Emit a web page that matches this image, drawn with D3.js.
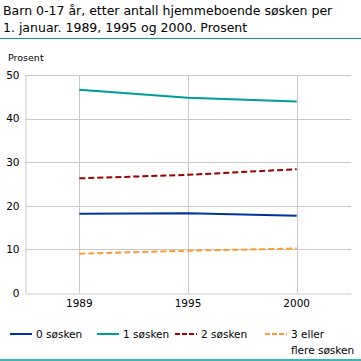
<!DOCTYPE html>
<html>
<head>
<meta charset="utf-8">
<script src="https://cdn.jsdelivr.net/npm/d3@7"></script>
<style>
  body { margin: 0; background: #fff; }
  svg { display: block; font-family: "DejaVu Sans", sans-serif; }
</style>
</head>
<body>
<script>
// chart data
let years = ["1989", "1995", "2000"];
let seriesNames = ["0 søsken", "1 søsken", "2 søsken", "3 eller flere søsken"];
let sosken0 = [18.2, 18.3, 17.7];
let sosken1 = [46.6, 44.8, 43.9];
let sosken2 = [26.3, 27.1, 28.4];
let sosken3 = [9.0, 9.7, 10.2];
let yTicks = [0, 10, 20, 30, 40, 50];

let colors = ["#003399", "#009c9c", "#990000", "#ff9933"];
let dashes = [null, null, "6,3", "6,3"];

let w = 361, h = 361;
let plotL = 25, plotR = 351, plotT = 75, plotB = 293;

let svg = d3.select("body").append("svg").attr("width", w).attr("height", h);

// title
let title = svg.append("text").attr("x", 3).attr("y", 15)
  .style("font-size", "12.5px").style("fill", "#000");
title.append("tspan").attr("x", 3).text("Barn 0-17 år, etter antall hjemmeboende søsken per");
title.append("tspan").attr("x", 3).attr("dy", 17).text("1. januar. 1989, 1995 og 2000. Prosent");

svg.append("line").attr("x1", 0).attr("x2", w).attr("y1", 38.5).attr("y2", 38.5)
  .style("stroke", "#009a9a").style("stroke-width", 1);

svg.append("text").attr("x", 8).attr("y", 61).text("Prosent")
  .style("font-size", "9.5px");

let xScale = d3.scaleBand().domain(years).range([plotL, plotR]);
let yScale = d3.scaleLinear().domain([0, 50]).range([plotB, plotT]);

// gridlines
svg.append("g").selectAll("line").data(yTicks.slice(1)).enter().append("line")
  .attr("x1", plotL).attr("x2", plotR)
  .attr("y1", (d) => Math.round(yScale(d)) + 0.5)
  .attr("y2", (d) => Math.round(yScale(d)) + 0.5)
  .style("stroke", "#c8c8c8");
svg.append("g").selectAll("line").data(years).enter().append("line")
  .attr("x1", (d) => Math.round(xScale(d) + xScale.bandwidth() / 2) + 0.5)
  .attr("x2", (d) => Math.round(xScale(d) + xScale.bandwidth() / 2) + 0.5)
  .attr("y1", plotT).attr("y2", plotB)
  .style("stroke", "#c8c8c8");

// axes
let yAxis = d3.axisLeft(yScale).tickValues(yTicks).tickSize(0).tickPadding(6);
let yAxisGroup = svg.append("g").attr("transform", `translate(${plotL + 0.5}, 0)`).call(yAxis);
let xAxis = d3.axisBottom(xScale).tickSize(0).tickPadding(6);
let xAxisGroup = svg.append("g").attr("transform", `translate(0, ${plotB + 0.5})`).call(xAxis);
[yAxisGroup, xAxisGroup].forEach((g) => {
  g.select(".domain").style("stroke", "#c8c8c8");
  g.selectAll("text").style("font-size", "10.5px").style("fill", "#000")
    .style("font-family", "DejaVu Sans, sans-serif");
});

// lines
let allSeries = [sosken0, sosken1, sosken2, sosken3];
let line = d3.line()
  .x((d, i) => xScale(years[i]) + xScale.bandwidth() / 2)
  .y((d) => yScale(d));
svg.append("g").selectAll("path").data(allSeries).enter().append("path")
  .attr("d", line)
  .style("fill", "none")
  .style("stroke", (d, i) => colors[i])
  .style("stroke-width", 2)
  .style("stroke-dasharray", (d, i) => dashes[i]);

// legend
let legX = [10, 97, 175, 265];
let legend = svg.append("g").selectAll("g").data(seriesNames).enter().append("g")
  .attr("transform", (d, i) => `translate(${legX[i]}, 334)`);
legend.append("line").attr("x1", 0).attr("x2", 22).attr("y1", 0).attr("y2", 0)
  .style("stroke", (d, i) => colors[i]).style("stroke-width", 2)
  .style("stroke-dasharray", (d, i) => dashes[i] ? "5,2" : null);
let legText = legend.append("text").attr("x", 26).attr("y", 4).style("font-size", "10.5px");
legText.each(function(d) {
  let t = d3.select(this);
  if (d.startsWith("3 eller")) {
    t.append("tspan").attr("x", 26).text("3 eller");
    t.append("tspan").attr("x", 26).attr("dy", 16).text("flere søsken");
  } else {
    t.text(d);
  }
});

svg.append("line").attr("x1", 0).attr("x2", w).attr("y1", 360).attr("y2", 360)
  .style("stroke", "#009a9a").style("stroke-width", 1.5);
</script>
</body>
</html>
